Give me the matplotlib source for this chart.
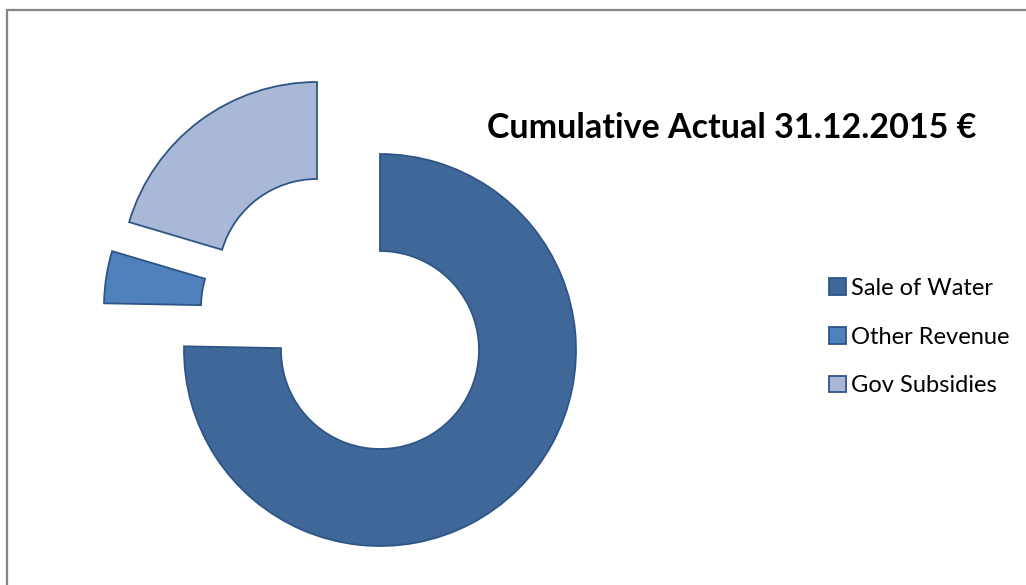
import matplotlib.pyplot as plt
from matplotlib.patches import Rectangle

labels = ['Sale of Water', 'Other Revenue', 'Gov Subsidies']
shares = [75.3, 4.3, 20.4]
colors = ['#3F6899', '#4F81BD', '#A9B8D6']
# pixel offsets of the pulled-out slices (x, y)
shifts = [(0, 0), (-80, 43), (-63, 72)]

fig = plt.figure(figsize=(10.26, 5.85), dpi=100)
ax = fig.add_axes([0, 0, 1, 1])

wedges, _ = ax.pie(shares, colors=colors, startangle=90, counterclock=False,
                   center=(380, 235), radius=196, frame=True,
                   wedgeprops=dict(width=97, edgecolor='#2E5586', linewidth=1.3))
for w, (dx, dy) in zip(wedges, shifts):
    cx, cy = w.center
    w.set_center((cx + dx, cy + dy))
ax.set_xlim(0, 1026)
ax.set_ylim(0, 585)
ax.set_aspect('equal')
ax.axis('off')

# outer chart frame
fig.patches.append(Rectangle((7 / 1026, -0.1), 1.2, (585 - 10) / 585 + 0.1,
                             transform=fig.transFigure, fill=False,
                             edgecolor='#868686', linewidth=1.6))

fig.text(487 / 1026, 1 - 128 / 585, 'Cumulative Actual 31.12.2015 €',
         fontsize=24.5, fontweight='bold', family='Lato', va='center', ha='left')

leg = fig.legend(wedges, labels, loc='center left',
                 bbox_to_anchor=(829 / 1026, 1 - 337 / 585), frameon=False,
                 prop={'family': 'Lato', 'size': 17},
                 borderpad=0, borderaxespad=0,
                 handlelength=0.7, handleheight=0.7, handletextpad=0.25,
                 labelspacing=1.18)

fig.savefig('out.png', dpi=100)
